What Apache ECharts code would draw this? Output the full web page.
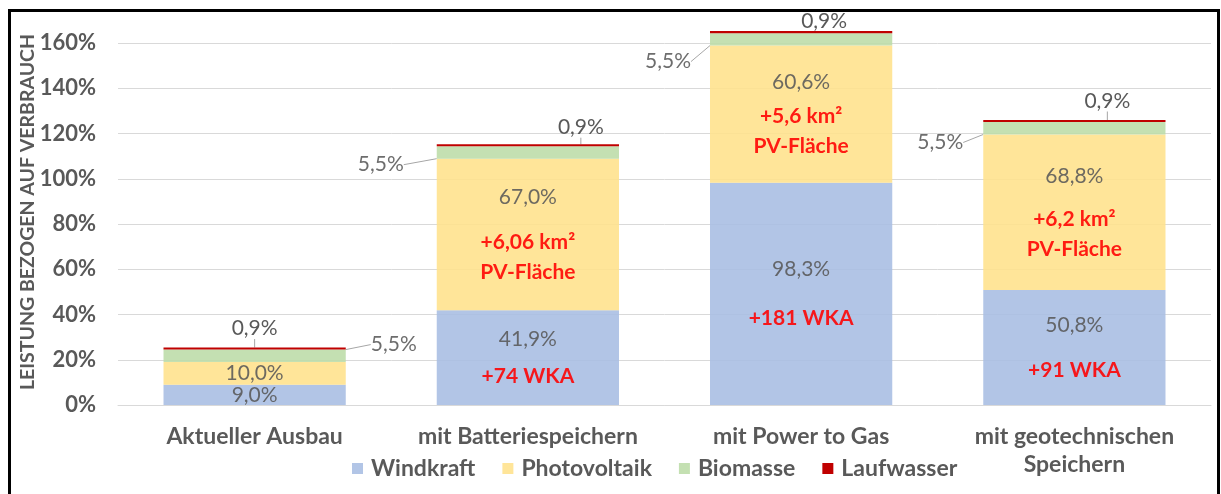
<!DOCTYPE html>
<html>
<head>
    <meta charset="UTF-8">
    <title>Leistung bezogen auf Verbrauch</title>
    <script src="https://cdn.jsdelivr.net/npm/echarts@6/dist/echarts.min.js"></script>
    <style>
        body { margin: 0; background: #fff; }
    </style>
</head>
<body>
<div id="chart" style="width:1221px; height:494px;"></div>
<script>
    // Daten (Prozent)
    var categories = ['Aktueller Ausbau', 'mit Batteriespeichern', 'mit Power to Gas', 'mit geotechnischen\nSpeichern'];
    var windkraft = [9.0, 41.9, 98.3, 50.8];
    var photovoltaik = [10.0, 67.0, 60.6, 68.8];
    var biomasse = [5.5, 5.5, 5.5, 5.5];
    var laufwasser = [0.9, 0.9, 0.9, 0.9];
    var windNotes = ['', '+74 WKA', '+181 WKA', '+91 WKA'];
    var pvNotes = ['', '+6,06 km²\nPV-Fläche', '+5,6 km²\nPV-Fläche', '+6,2 km²\nPV-Fläche'];

    var grey = '#595959';
    var font = 'Lato';

    // Abstand zwischen Prozentwert und roter Anmerkung je Balken
    var windGap = [0, 7, 19, 15];
    var pvGap = [0, 15, 4, 13];

    function pct(v) {
        return v.toFixed(1).replace('.', ',') + '%';
    }

    var rich = {
        v: {fontFamily: font, fontSize: 21, color: grey, lineHeight: 30},
        r: {fontFamily: font, fontSize: 21, fontWeight: 'bold', color: '#ff0000', lineHeight: 30}
    };
    for (var i = 0; i < 4; i++) {
        rich['w' + i] = {fontSize: 2, lineHeight: Math.max(windGap[i], 1)};
        rich['p' + i] = {fontSize: 2, lineHeight: Math.max(pvGap[i], 1)};
    }

    function noteLabel(notes, key) {
        return function (p) {
            var i = p.dataIndex;
            var s = '{v|' + pct(p.value) + '}';
            if (notes[i]) {
                s += '\n{' + key + i + '| }';
                notes[i].split('\n').forEach(function (line) {
                    s += '\n{r|' + line + '}';
                });
            }
            return s;
        };
    }

    var smallLabel = {show: true, color: grey, fontFamily: font, fontSize: 21, formatter: function (p) { return pct(p.value); }};
    var guide = {show: true, lineStyle: {color: '#a6a6a6', width: 1}};

    var chart = echarts.init(document.getElementById('chart'), null, {renderer: 'canvas'});
    var option = {
        animation: false,
        color: ['#a7bde3', '#ffe18b', '#bcdca7', '#c00000'],
        grid: {left: 118, right: 10, top: 25, bottom: 89},
        legend: {
            left: 352, top: 457, padding: 0,
            itemWidth: 11, itemHeight: 11, itemGap: 27,
            icon: 'rect',
            textStyle: {fontFamily: font, fontSize: 23, fontWeight: 'bold', color: grey, padding: [0, 0, 0, 3]},
            data: ['Windkraft', 'Photovoltaik', 'Biomasse', 'Laufwasser']
        },
        xAxis: {
            type: 'category',
            data: categories,
            axisLine: {lineStyle: {color: '#d9d9d9', width: 1}},
            axisTick: {show: false},
            axisLabel: {interval: 0, margin: 18, lineHeight: 28, fontFamily: font, fontSize: 23, fontWeight: 'bold', color: grey}
        },
        yAxis: {
            type: 'value',
            min: 0, max: 168, interval: 20,
            axisLine: {show: false},
            axisTick: {show: false},
            splitLine: {showMaxLine: false, lineStyle: {color: '#d9d9d9', width: 1}},
            axisLabel: {
                showMaxLabel: false, margin: 22,
                fontFamily: font, fontSize: 22, fontWeight: 'bold', color: grey,
                formatter: function (v) { return v > 160 ? '' : v + '%'; }
            }
        },
        graphic: [
            {type: 'rect', silent: true, shape: {x: 9.5, y: 10.5, width: 1209, height: 500},
                style: {fill: 'none', stroke: '#000', lineWidth: 3}},
            {type: 'text', x: 28, y: 212, rotation: Math.PI / 2,
                style: {text: 'LEISTUNG BEZOGEN AUF VERBRAUCH', fill: grey, font: 'bold 19.5px Lato', align: 'center', verticalAlign: 'middle'}}
        ],
        series: [
            {
                name: 'Windkraft', type: 'bar', stack: 'total', barWidth: '66.7%',
                itemStyle: {opacity: 0.88},
                label: {show: true, position: 'inside', rich: rich, formatter: noteLabel(windNotes, 'w')},
                data: windkraft
            },
            {
                name: 'Photovoltaik', type: 'bar', stack: 'total',
                itemStyle: {opacity: 0.88},
                label: {show: true, position: 'inside', rich: rich, formatter: noteLabel(pvNotes, 'p')},
                data: photovoltaik
            },
            {
                name: 'Biomasse', type: 'bar', stack: 'total',
                itemStyle: {opacity: 0.88},
                label: smallLabel,
                labelLine: guide,
                labelLayout: function (p) {
                    var r = p.rect, i = p.dataIndex;
                    if (i === 0) {
                        return {x: r.x + r.width + 25, y: r.y - 5, align: 'left', verticalAlign: 'middle'};
                    }
                    var dx = [0, -33, -19, -20][i], dy = [0, 6, 16, 8][i];
                    return {x: r.x + dx, y: r.y + r.height + dy, align: 'right', verticalAlign: 'middle'};
                },
                data: biomasse
            },
            {
                name: 'Laufwasser', type: 'bar', stack: 'total',
                label: Object.assign({}, smallLabel, {position: 'top'}),
                labelLine: guide,
                labelLayout: function (p) {
                    var r = p.rect, i = p.dataIndex;
                    var cx = r.x + r.width / 2;
                    var dx = [0, 30, 0, 10][i], dy = [-19, -17, -10, -19][i];
                    return {x: cx + dx, y: r.y + dy, align: i === 0 ? 'center' : 'left', verticalAlign: 'middle'};
                },
                data: laufwasser
            }
        ]
    };
    chart.setOption(option);
</script>
</body>
</html>
